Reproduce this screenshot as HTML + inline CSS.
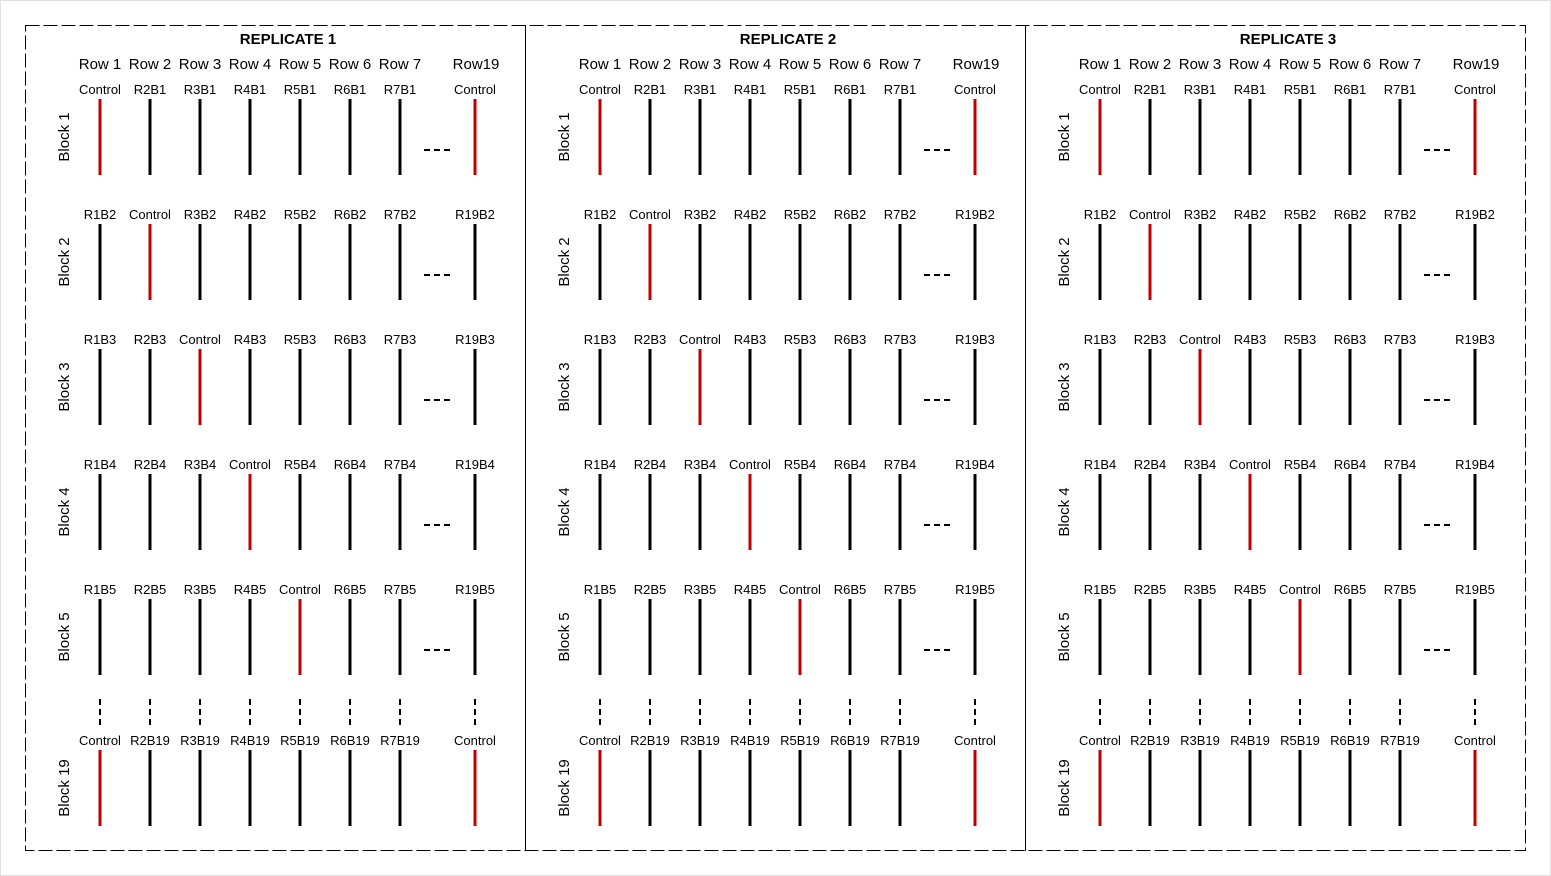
<!DOCTYPE html>
<html><head><meta charset="utf-8">
<style>
html,body{margin:0;padding:0;background:#fff;}
svg{display:block;}
text{font-family:"Liberation Sans",sans-serif;fill:#000;}
</style></head>
<body>
<svg id="chart" width="1551" height="876" viewBox="0 0 1551 876" xmlns="http://www.w3.org/2000/svg">
<rect x="0.5" y="0.5" width="1550" height="875" fill="#fff" stroke="#e0e0e0"/>
<rect x="25.5" y="25.5" width="1500" height="825" fill="none" stroke="#000" stroke-width="1" stroke-dasharray="14 4"/>
<line x1="525.5" y1="25" x2="525.5" y2="851" stroke="#000"/>
<line x1="1025.5" y1="25" x2="1025.5" y2="851" stroke="#000"/>
</svg>
<script>
const replicates = ["REPLICATE 1","REPLICATE 2","REPLICATE 3"];
const rowHeaders = ["Row 1","Row 2","Row 3","Row 4","Row 5","Row 6","Row 7","Row19"];
const rowNums = [1,2,3,4,5,6,7,19];
const blocks = [1,2,3,4,5,19];
const controlCol = [0,1,2,3,4,0];
const ns="http://www.w3.org/2000/svg";
const svg=document.getElementById('chart');
function mk(tag,attrs,txt){const e=document.createElementNS(ns,tag);for(const k in attrs)e.setAttribute(k,attrs[k]);if(txt!==undefined)e.textContent=txt;svg.appendChild(e);return e;}
const colX=i=> i<7 ? 100+50*i : 475;
const blockY=b=> b<5 ? 99+125*b : 750;
replicates.forEach((rep,p)=>{
  const ox=500*p;
  const t=mk('text',{x:288+ox,y:44,'text-anchor':'middle','font-size':'15','font-weight':'bold'},rep);
  
  
  rowHeaders.forEach((h,i)=>{
    const e=mk('text',{x:colX(i)+ox+(i==7?1:0),y:69,'text-anchor':'middle','font-size':'15'},h);
    
    
  });
  blocks.forEach((b,bi)=>{
    const y0=blockY(bi);
    const bl=mk('text',{x:0,y:0,'text-anchor':'middle','font-size':'15',transform:`translate(${69+ox},${y0+38}) rotate(-90)`},'Block '+b);
    
    
    rowNums.forEach((r,i)=>{
      const isCtrl = (i<7 && i===controlCol[bi]) || (i===7 && (b===1||b===19));
      const label = isCtrl ? 'Control' : ('R'+r+'B'+b);
      const x=colX(i)+ox;
      const lt=mk('text',{x:x,y:y0-5,'text-anchor':'middle','font-size':'13'},label);
      
      
      const ln=mk('line',{x1:x,y1:y0,x2:x,y2:y0+76,stroke:isCtrl?'#c00000':'#000','stroke-width':3});
      
      
      if(bi===5){
        const c=mk('line',{x1:x,y1:699,x2:x,y2:726,stroke:'#000','stroke-width':2,'stroke-dasharray':'6 4'});
        
        
      }
    });
    if(bi<5){
      const d=mk('line',{x1:424+ox,y1:y0+51,x2:451+ox,y2:y0+51,stroke:'#000','stroke-width':2,'stroke-dasharray':'6 4'});
      
      
    }
  });
});
</script>
</body></html>
